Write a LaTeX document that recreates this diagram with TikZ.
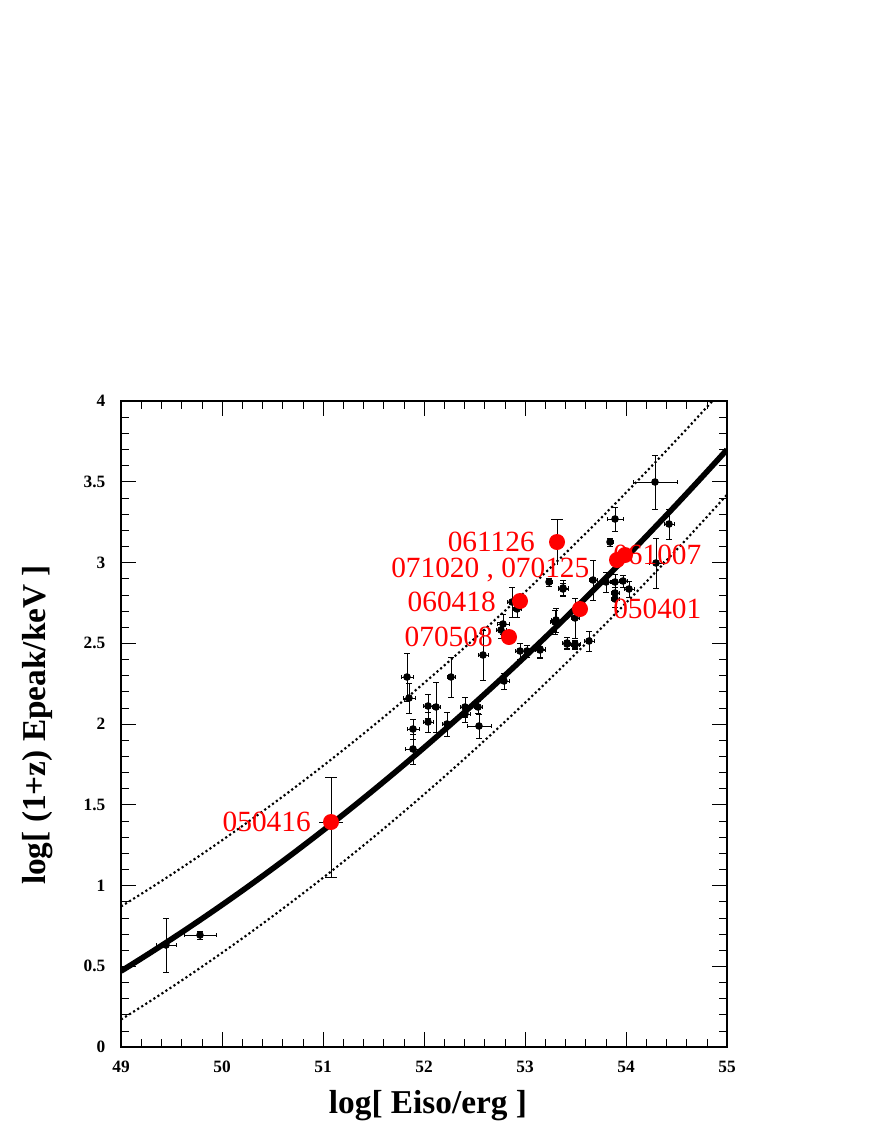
\documentclass[tikz,border=0pt]{standalone}
\usepackage{fontspec}
\setmainfont{Liberation Serif}
\tikzset{
  grb/.style={fill=black},
  bar/.style={line width=0.7pt},
  hit/.style={fill=red},
  tag/.style={text=red,font=\fontsize{22}{22}\selectfont,inner sep=0pt},
  ticklab/.style={font=\bfseries\fontsize{13}{13}\selectfont},
}
\begin{document}
\begin{tikzpicture}[x=0.75pt,y=-0.75pt]
  \useasboundingbox (0,0) rectangle (872,1128);
  % fit lines
  \begin{scope}
    \clip (121,401) rectangle (727,1047);
    \draw[line width=4.2pt] plot[domain=49:55,samples=60]
      ({121+101*(\x-49)},{1047-161.5*(0.47+0.384*(\x-49)+0.0257*(\x-49)^2)});
    \draw[line width=1.6pt,dotted] plot[domain=49:55,samples=60]
      ({121+101*(\x-49)},{1047-161.5*(0.87+0.384*(\x-49)+0.0257*(\x-49)^2)});
    \draw[line width=1.6pt,dotted] plot[domain=49:55,samples=60]
      ({121+101*(\x-49)},{1047-161.5*(0.17+0.3875*(\x-49)+0.0257*(\x-49)^2)});
  \end{scope}
  % frame and ticks
  \draw[line width=1pt] (121,401) rectangle (727,1047);
  \foreach \i in {0,...,30}{
    \pgfmathsetmacro{\tx}{121+20.2*\i}
    \pgfmathsetmacro{\tl}{mod(\i,5)==0 ? 15 : 8}
    \draw (\tx,1047) -- ++(0,-\tl);
    \draw (\tx,401) -- ++(0,\tl);
  }
  \foreach \i in {0,...,40}{
    \pgfmathsetmacro{\ty}{1047-16.15*\i}
    \pgfmathsetmacro{\tl}{mod(\i,5)==0 ? 15 : 8}
    \draw (121,\ty) -- ++(\tl,0);
    \draw (727,\ty) -- ++(-\tl,0);
  }
  \foreach \v [count=\k from 0] in {49,50,51,52,53,54,55}
    \node[ticklab,anchor=north] at ({121+101*\k},1056) {\v};
  \foreach \v [count=\k from 0] in {0,0.5,1,1.5,2,2.5,3,3.5,4}
    \node[ticklab,anchor=east] at (110,{1047-80.75*\k}) {\v};
  \node[font=\bfseries\fontsize{25}{25}\selectfont] (xlab) at (428,1106) {log[ Eiso/erg ]};
  \node[font=\bfseries\fontsize{25}{25}\selectfont,rotate=90] (ylab) at (38,725) {log[ (1+z) Epeak/keV ]};
  % data points: x/y/ex/ey
  \foreach \x/\y/\ex/\ey in {
    166/945/10/27, 200/935/16/4,
    407/677/6/24, 409/698/6/15, 413/729/6/10, 413/749/8/15,
    428/706/5/12, 428/722/5/10, 436/707/4/25, 451/677/4/20,
    447/724/5/12, 465/707/5/10, 465/714/5/8, 478/707/4/6,
    479/726/12/12, 483/655/5/25, 504/681/5/8, 503/624/6/10,
    501/630/5/8, 512/602/5/15, 517/609/4/8, 520/651/5/8,
    527/651/5/6, 540/650/5/8, 549/582/3/4, 563/588/5/8,
    556/620/5/12, 567/644/3/4, 575/645/4/4, 655/482/22/27,
    615/519/8/12, 669/524/5/15, 610/542/3/4, 656/563/7/25,
    563/589/5/6, 606/582/5/10, 615/582/5/8, 623/581/4/6,
    629/589/5/8, 615/593/4/6, 615/599/4/8, 593/580/4/20,
    555/622/5/12, 575/618/4/20, 567/643/5/6, 575/644/5/4,
    589/641/5/10, 540/649/5/8}
  {
    \draw[bar] (\x-\ex,\y) -- (\x+\ex,\y) (\x,\y-\ey) -- (\x,\y+\ey);
    \draw[bar] (\x-\ex,\y-2) -- (\x-\ex,\y+2) (\x+\ex,\y-2) -- (\x+\ex,\y+2);
    \draw[bar] (\x-3,\y-\ey) -- (\x+3,\y-\ey) (\x-3,\y+\ey) -- (\x+3,\y+\ey);
    \fill[grb] (\x,\y) circle (3.8);
  }
  % highlighted bursts
  \draw[bar] (319,822) -- (343,822) (331,777) -- (331,877);
  \draw[bar] (325,777) -- (337,777) (325,877) -- (337,877);
  \draw[bar] (557,519) -- (557,565) (551,519) -- (563,519);
  \foreach \x/\y in {331/822, 509/637, 520/601, 557/542, 580/609, 617/560, 625/555}
    \fill[hit] (\x,\y) circle (8);
  \node[tag,anchor=east] (b061126) at (535,542) {061126};
  \node[tag,anchor=west] (b071020) at (391,570) {071020 , 070125};
  \node[tag,anchor=east] (b060418) at (496,602) {060418};
  \node[tag,anchor=east] (b070508) at (493,637) {070508};
  \node[tag,anchor=east] (b050416) at (311,822) {050416};
  \node[tag,anchor=west] (b061007) at (613,555) {061007};
  \node[tag,anchor=west] (b050401) at (613,609) {050401};
\end{tikzpicture}
\end{document}
